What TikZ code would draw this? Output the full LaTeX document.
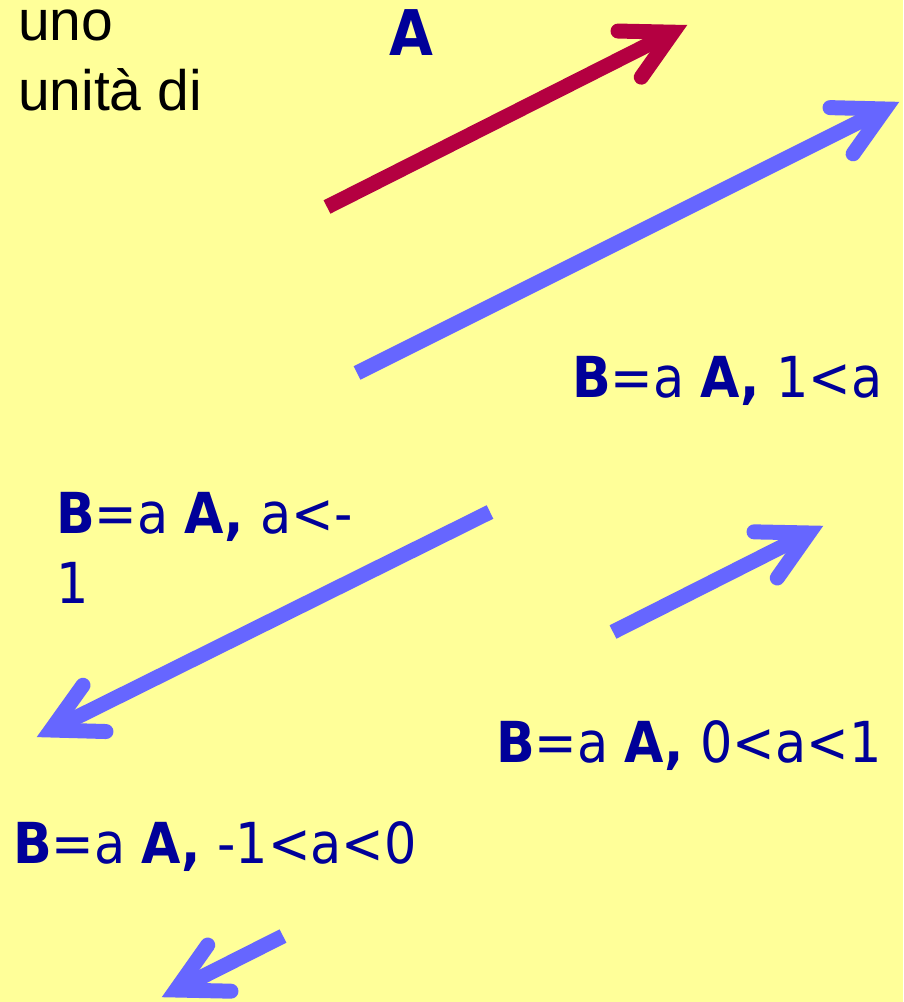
\documentclass[tikz,border=0pt]{standalone}
\usepackage{fontspec}
\usetikzlibrary{calc}
\newfontfamily\vfont{DejaVu Sans Condensed}
\setmainfont{Liberation Sans}
\definecolor{bg}{RGB}{255,255,153}
\definecolor{vred}{RGB}{180,0,65}
\definecolor{vblue}{RGB}{102,102,255}
\definecolor{tblue}{RGB}{0,0,153}
\tikzset{
  shaft/.style={line width=15pt, line cap=butt},
  head/.style={line width=15pt, line cap=round, line join=miter},
  lbl/.style={anchor=base west, inner sep=0pt, outer sep=0pt, text=tblue, font=\vfont\fontsize{56.5}{70}\selectfont},
  blk/.style={anchor=base west, inner sep=0pt, outer sep=0pt, text=black, font=\fontsize{57}{70}\selectfont}
}
\newcommand{\myvec}[3]{%
  \draw[shaft,#3] (#1) -- (#2);
  \draw[head,#3] ($(#2)!55pt!28:(#1)$) -- (#2) -- ($(#2)!55pt!-28:(#1)$);
}
\begin{document}
\begin{tikzpicture}[x=1pt,y=-1pt]
\useasboundingbox (0,0) rectangle (903,1002);
\fill[bg] (0,0) rectangle (903,1002);
% texts
\node[blk] (t1) at (18,40) {uno};
\node[blk] (t2) at (18,110) {unità di};
\node[lbl, font=\vfont\bfseries\fontsize{63}{70}\selectfont] (tA) at (389,55) {A};
\node[lbl] (l1) at (572,397) {\textbf{B}=a \textbf{A,} 1<a};
\node[lbl] (l2a) at (56,533) {\textbf{B}=a \textbf{A,} a<-};
\node[lbl] (l2b) at (56,603) {1};
\node[lbl] (l3) at (496,762) {\textbf{B}=a \textbf{A,} 0<a<1};
\node[lbl] (l4) at (13,863) {\textbf{B}=a \textbf{A,} -1<a<0};
% arrows
\coordinate (rS) at (327,207);   \coordinate (rT) at (673,32.2);
\coordinate (b1S) at (357,373);  \coordinate (b1T) at (885,109);
\coordinate (b2S) at (490,512);  \coordinate (b2T) at (51,730);
\coordinate (b3S) at (613,632);  \coordinate (b3T) at (809,533);
\coordinate (b4S) at (283,936);  \coordinate (b4T) at (176,990);
\myvec{rS}{rT}{vred}
\myvec{b1S}{b1T}{vblue}
\myvec{b2S}{b2T}{vblue}
\myvec{b3S}{b3T}{vblue}
\myvec{b4S}{b4T}{vblue}
\end{tikzpicture}
\end{document}
